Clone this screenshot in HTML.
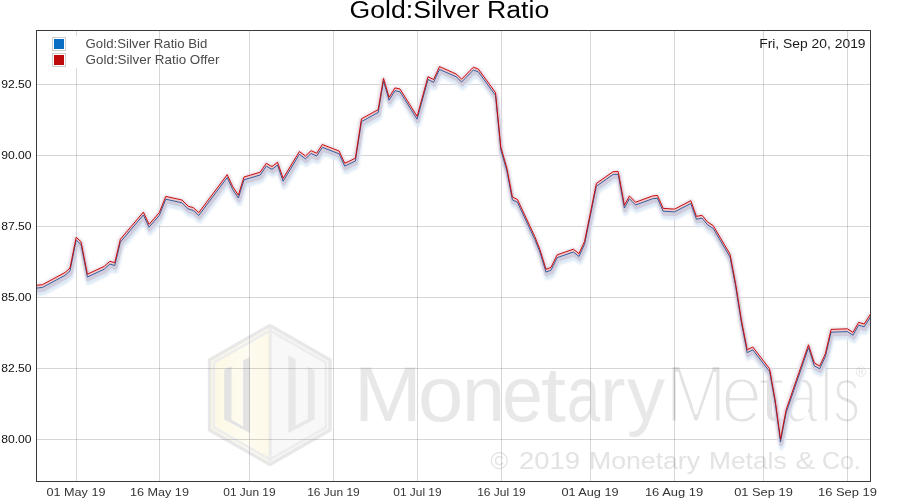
<!DOCTYPE html>
<html><head><meta charset="utf-8"><title>Gold:Silver Ratio</title>
<style>
html,body{margin:0;padding:0;background:#fff;}
body{width:900px;height:500px;overflow:hidden;font-family:"Liberation Sans",sans-serif;}
svg{display:block;will-change:transform;}
text{font-family:"Liberation Sans",sans-serif;}
</style></head><body>
<svg width="900" height="500" viewBox="0 0 900 500">
<defs>
<clipPath id="plot"><rect x="36" y="30" width="835" height="452"/></clipPath>
<filter id="blur1" x="-5%" y="-5%" width="110%" height="110%"><feGaussianBlur stdDeviation="0.5"/></filter>
<filter id="blur2" x="-5%" y="-5%" width="110%" height="110%"><feGaussianBlur stdDeviation="0.9"/></filter>
</defs>
<rect width="900" height="500" fill="#fff"/>

<!-- watermark -->
<g id="wm">
<linearGradient id="gl" x1="0" y1="0" x2="1" y2="0"><stop offset="0" stop-color="#fdf7e2"/><stop offset="0.6" stop-color="#fefcf1"/><stop offset="1" stop-color="#fdf9e8"/></linearGradient>
<polygon points="270,324 331.5,359 331.5,431 270,466 208,431 208,359" fill="#f8f8f8"/>
<polygon points="270,324 270,466 208,431 208,359" fill="url(#gl)"/>
<polygon points="270,325.5 330,360 330,430 270,464.5 209.5,430 209.5,360" fill="none" stroke="#e8e8e8" stroke-width="3.4" stroke-linejoin="round"/>
<polygon points="270,330.5 325.8,362.5 325.8,427.5 270,459.5 213.8,427.5 213.8,362.5" fill="none" stroke="#ededed" stroke-width="2.6" stroke-linejoin="round"/>
<rect x="268.6" y="327" width="3.2" height="136" fill="#ececec"/>
<!-- left U -->
<path d="M224.2,369.7 L231.5,366 L231.5,419.8 L243.1,426.4 L243.1,360.5 L249.8,357 L249.8,432.9 L224.2,419.4 Z" fill="#e3e3e3"/>
<!-- right U -->
<path d="M288.3,355.5 L295.7,359.5 L295.7,425.6 L307.9,418.8 L307.9,366.5 L314.6,370.5 L314.6,419.4 L288.3,432.9 Z" fill="#e8e8e8"/>
<g font-size="78" fill="#e8e8e8">
<text x="354" y="421" textLength="67.84" lengthAdjust="spacingAndGlyphs">M</text>
<text x="418.0" y="421" textLength="45.34" lengthAdjust="spacingAndGlyphs">o</text>
<text x="462" y="421" textLength="43.18" lengthAdjust="spacingAndGlyphs">n</text>
<text x="502" y="421" textLength="40.83" lengthAdjust="spacingAndGlyphs">e</text>
<text x="541" y="421" textLength="25.04" lengthAdjust="spacingAndGlyphs">t</text>
<text x="567" y="421" textLength="33.14" lengthAdjust="spacingAndGlyphs">a</text>
<text x="600" y="421" textLength="25.46" lengthAdjust="spacingAndGlyphs">r</text>
<text x="627" y="421" textLength="38.0" lengthAdjust="spacingAndGlyphs">y</text>
</g>
<g font-size="81.5" fill="#e3e3e3" stroke="#fff" stroke-width="3.2">
<text x="665" y="422" textLength="62.03" lengthAdjust="spacingAndGlyphs">M</text>
<text x="721" y="422" textLength="41.27" lengthAdjust="spacingAndGlyphs">e</text>
<text x="757" y="422" textLength="29.08" lengthAdjust="spacingAndGlyphs">t</text>
<text x="785" y="422" textLength="33.08" lengthAdjust="spacingAndGlyphs">a</text>
<text x="820.0" y="422" textLength="12.6" lengthAdjust="spacingAndGlyphs">l</text>
<text x="833.0" y="422" textLength="27.21" lengthAdjust="spacingAndGlyphs">s</text>
</g>
<text x="855.8" y="377" font-size="14" fill="#e6e6e6">®</text>
<g font-size="24" fill="#e3e3e3">
<text x="490.5" y="469" textLength="17.56" lengthAdjust="spacingAndGlyphs">©</text>
<text x="519.0" y="469" textLength="61.08" lengthAdjust="spacingAndGlyphs">2019</text>
<text x="589.0" y="469" textLength="111.04" lengthAdjust="spacingAndGlyphs">Monetary</text>
<text x="709" y="469" textLength="77.61" lengthAdjust="spacingAndGlyphs">Metals</text>
<text x="795.5" y="469" textLength="19.56" lengthAdjust="spacingAndGlyphs">&amp;</text>
<text x="822.0" y="469" textLength="38.76" lengthAdjust="spacingAndGlyphs">Co.</text>
</g>
</g>

<!-- grid -->
<g stroke="#26222c" stroke-opacity="0.19" stroke-width="1" shape-rendering="crispEdges">
<line x1="37" y1="84.5" x2="870" y2="84.5"/>
<line x1="37" y1="155.5" x2="870" y2="155.5"/>
<line x1="37" y1="226.5" x2="870" y2="226.5"/>
<line x1="37" y1="297.5" x2="870" y2="297.5"/>
<line x1="37" y1="368.5" x2="870" y2="368.5"/>
<line x1="37" y1="439.5" x2="870" y2="439.5"/>
<line x1="76.5" y1="31" x2="76.5" y2="481"/>
<line x1="159.5" y1="31" x2="159.5" y2="481"/>
<line x1="249.5" y1="31" x2="249.5" y2="481"/>
<line x1="333.5" y1="31" x2="333.5" y2="481"/>
<line x1="417.5" y1="31" x2="417.5" y2="481"/>
<line x1="501.5" y1="31" x2="501.5" y2="481"/>
<line x1="590.5" y1="31" x2="590.5" y2="481"/>
<line x1="674.5" y1="31" x2="674.5" y2="481"/>
<line x1="763.5" y1="31" x2="763.5" y2="481"/>
<line x1="847.5" y1="31" x2="847.5" y2="481"/>
</g>

<!-- legend background -->
<rect x="48" y="36" width="34" height="32" fill="#fff"/>

<!-- series -->
<g clip-path="url(#plot)" fill="none" stroke-linejoin="round" stroke-linecap="round">
<g filter="url(#blur2)">
<polyline points="36.0,288.2 42.6,287.4 65.0,275.3 70.0,270.9 76.2,240.1 81.0,244.5 87.4,277.0 104.2,269.2 109.8,264.1 114.8,265.5 120.4,242.0 143.4,214.9 149.0,227.2 159.3,215.4 165.8,199.2 182.0,202.8 188.2,209.0 193.2,210.4 198.8,215.4 227.2,177.5 232.8,189.6 238.4,198.0 244.0,179.8 260.2,175.0 266.3,166.1 272.0,169.4 277.5,165.0 283.1,181.2 299.4,154.3 305.5,158.8 311.1,153.5 316.7,156.0 322.3,147.3 339.1,153.8 344.7,166.1 355.4,161.0 361.5,121.6 378.2,112.4 383.5,81.2 389.1,100.2 395.0,90.7 400.0,91.8 417.1,119.2 428.0,79.5 433.6,82.3 439.5,69.4 456.0,76.7 461.6,82.0 473.4,70.0 478.4,71.9 495.5,95.4 500.8,149.8 506.8,170.8 512.4,199.9 517.4,202.2 534.8,239.4 539.8,252.0 546.0,272.1 551.0,270.2 557.2,257.6 573.4,252.0 579.0,256.5 584.6,244.1 596.4,186.2 613.2,174.4 618.2,174.4 624.4,208.0 629.4,198.8 635.6,205.0 652.4,198.8 657.4,198.2 663.2,211.2 674.6,211.9 690.8,203.5 696.4,219.2 702.0,218.1 707.6,224.8 713.2,228.4 730.0,257.0 735.6,286.4 741.4,322.8 747.2,352.6 752.8,349.8 769.6,371.6 775.2,403.0 780.5,442.0 786.1,412.8 808.5,347.6 814.3,365.8 819.7,368.8 825.3,356.8 831.1,332.2 847.4,331.6 853.0,335.2 858.6,325.2 864.2,326.8 870.5,317.0" stroke="#dce8f5" stroke-width="5" transform="translate(1,5.4)"/>
<polyline points="36.0,285.4 42.6,284.6 65.0,272.5 70.0,268.1 76.2,237.3 81.0,241.7 87.4,274.2 104.2,266.4 109.8,261.3 114.8,262.7 120.4,239.2 143.4,212.1 149.0,224.4 159.3,212.6 165.8,196.4 182.0,200.0 188.2,206.2 193.2,207.6 198.8,212.6 227.2,174.7 232.8,186.8 238.4,195.2 244.0,177.0 260.2,172.2 266.3,163.3 272.0,166.6 277.5,162.2 283.1,178.4 299.4,151.5 305.5,156.0 311.1,150.7 316.7,153.2 322.3,144.5 339.1,151.0 344.7,163.3 355.4,158.2 361.5,118.8 378.2,109.6 383.5,78.4 389.1,97.4 395.0,87.9 400.0,89.0 417.1,116.4 428.0,76.7 433.6,79.5 439.5,66.6 456.0,73.9 461.6,79.2 473.4,67.2 478.4,69.1 495.5,92.6 500.8,147.0 506.8,168.0 512.4,197.1 517.4,199.4 534.8,236.6 539.8,249.2 546.0,269.3 551.0,267.4 557.2,254.8 573.4,249.2 579.0,253.7 584.6,241.3 596.4,183.4 613.2,171.6 618.2,171.6 624.4,205.2 629.4,196.0 635.6,202.2 652.4,196.0 657.4,195.4 663.2,208.4 674.6,209.1 690.8,200.7 696.4,216.4 702.0,215.3 707.6,222.0 713.2,225.6 730.0,254.2 735.6,283.6 741.4,320.0 747.2,349.8 752.8,347.0 769.6,368.8 775.2,400.2 780.5,439.2 786.1,410.0 808.5,344.8 814.3,363.0 819.7,366.0 825.3,354.0 831.1,329.4 847.4,328.8 853.0,332.4 858.6,322.4 864.2,324.0 870.5,314.2" stroke="#e4dbe7" stroke-width="5.6" transform="translate(0,1.4)"/>
</g>
<g filter="url(#blur1)">
<polyline points="36.0,288.2 42.6,287.4 65.0,275.3 70.0,270.9 76.2,240.1 81.0,244.5 87.4,277.0 104.2,269.2 109.8,264.1 114.8,265.5 120.4,242.0 143.4,214.9 149.0,227.2 159.3,215.4 165.8,199.2 182.0,202.8 188.2,209.0 193.2,210.4 198.8,215.4 227.2,177.5 232.8,189.6 238.4,198.0 244.0,179.8 260.2,175.0 266.3,166.1 272.0,169.4 277.5,165.0 283.1,181.2 299.4,154.3 305.5,158.8 311.1,153.5 316.7,156.0 322.3,147.3 339.1,153.8 344.7,166.1 355.4,161.0 361.5,121.6 378.2,112.4 383.5,81.2 389.1,100.2 395.0,90.7 400.0,91.8 417.1,119.2 428.0,79.5 433.6,82.3 439.5,69.4 456.0,76.7 461.6,82.0 473.4,70.0 478.4,71.9 495.5,95.4 500.8,149.8 506.8,170.8 512.4,199.9 517.4,202.2 534.8,239.4 539.8,252.0 546.0,272.1 551.0,270.2 557.2,257.6 573.4,252.0 579.0,256.5 584.6,244.1 596.4,186.2 613.2,174.4 618.2,174.4 624.4,208.0 629.4,198.8 635.6,205.0 652.4,198.8 657.4,198.2 663.2,211.2 674.6,211.9 690.8,203.5 696.4,219.2 702.0,218.1 707.6,224.8 713.2,228.4 730.0,257.0 735.6,286.4 741.4,322.8 747.2,352.6 752.8,349.8 769.6,371.6 775.2,403.0 780.5,442.0 786.1,412.8 808.5,347.6 814.3,365.8 819.7,368.8 825.3,356.8 831.1,332.2 847.4,331.6 853.0,335.2 858.6,325.2 864.2,326.8 870.5,317.0" stroke="#d0ccdc" stroke-width="4" transform="translate(0.6,2.3)"/>
<polyline points="36.0,285.4 42.6,284.6 65.0,272.5 70.0,268.1 76.2,237.3 81.0,241.7 87.4,274.2 104.2,266.4 109.8,261.3 114.8,262.7 120.4,239.2 143.4,212.1 149.0,224.4 159.3,212.6 165.8,196.4 182.0,200.0 188.2,206.2 193.2,207.6 198.8,212.6 227.2,174.7 232.8,186.8 238.4,195.2 244.0,177.0 260.2,172.2 266.3,163.3 272.0,166.6 277.5,162.2 283.1,178.4 299.4,151.5 305.5,156.0 311.1,150.7 316.7,153.2 322.3,144.5 339.1,151.0 344.7,163.3 355.4,158.2 361.5,118.8 378.2,109.6 383.5,78.4 389.1,97.4 395.0,87.9 400.0,89.0 417.1,116.4 428.0,76.7 433.6,79.5 439.5,66.6 456.0,73.9 461.6,79.2 473.4,67.2 478.4,69.1 495.5,92.6 500.8,147.0 506.8,168.0 512.4,197.1 517.4,199.4 534.8,236.6 539.8,249.2 546.0,269.3 551.0,267.4 557.2,254.8 573.4,249.2 579.0,253.7 584.6,241.3 596.4,183.4 613.2,171.6 618.2,171.6 624.4,205.2 629.4,196.0 635.6,202.2 652.4,196.0 657.4,195.4 663.2,208.4 674.6,209.1 690.8,200.7 696.4,216.4 702.0,215.3 707.6,222.0 713.2,225.6 730.0,254.2 735.6,283.6 741.4,320.0 747.2,349.8 752.8,347.0 769.6,368.8 775.2,400.2 780.5,439.2 786.1,410.0 808.5,344.8 814.3,363.0 819.7,366.0 825.3,354.0 831.1,329.4 847.4,328.8 853.0,332.4 858.6,322.4 864.2,324.0 870.5,314.2" stroke="#f4c8c8" stroke-width="2.2" transform="translate(0,1.4)"/>
</g>
<polyline points="36.0,288.2 42.6,287.4 65.0,275.3 70.0,270.9 76.2,240.1 81.0,244.5 87.4,277.0 104.2,269.2 109.8,264.1 114.8,265.5 120.4,242.0 143.4,214.9 149.0,227.2 159.3,215.4 165.8,199.2 182.0,202.8 188.2,209.0 193.2,210.4 198.8,215.4 227.2,177.5 232.8,189.6 238.4,198.0 244.0,179.8 260.2,175.0 266.3,166.1 272.0,169.4 277.5,165.0 283.1,181.2 299.4,154.3 305.5,158.8 311.1,153.5 316.7,156.0 322.3,147.3 339.1,153.8 344.7,166.1 355.4,161.0 361.5,121.6 378.2,112.4 383.5,81.2 389.1,100.2 395.0,90.7 400.0,91.8 417.1,119.2 428.0,79.5 433.6,82.3 439.5,69.4 456.0,76.7 461.6,82.0 473.4,70.0 478.4,71.9 495.5,95.4 500.8,149.8 506.8,170.8 512.4,199.9 517.4,202.2 534.8,239.4 539.8,252.0 546.0,272.1 551.0,270.2 557.2,257.6 573.4,252.0 579.0,256.5 584.6,244.1 596.4,186.2 613.2,174.4 618.2,174.4 624.4,208.0 629.4,198.8 635.6,205.0 652.4,198.8 657.4,198.2 663.2,211.2 674.6,211.9 690.8,203.5 696.4,219.2 702.0,218.1 707.6,224.8 713.2,228.4 730.0,257.0 735.6,286.4 741.4,322.8 747.2,352.6 752.8,349.8 769.6,371.6 775.2,403.0 780.5,442.0 786.1,412.8 808.5,347.6 814.3,365.8 819.7,368.8 825.3,356.8 831.1,332.2 847.4,331.6 853.0,335.2 858.6,325.2 864.2,326.8 870.5,317.0" stroke="#25589e" stroke-width="0.95"/>
<polyline points="36.0,285.4 42.6,284.6 65.0,272.5 70.0,268.1 76.2,237.3 81.0,241.7 87.4,274.2 104.2,266.4 109.8,261.3 114.8,262.7 120.4,239.2 143.4,212.1 149.0,224.4 159.3,212.6 165.8,196.4 182.0,200.0 188.2,206.2 193.2,207.6 198.8,212.6 227.2,174.7 232.8,186.8 238.4,195.2 244.0,177.0 260.2,172.2 266.3,163.3 272.0,166.6 277.5,162.2 283.1,178.4 299.4,151.5 305.5,156.0 311.1,150.7 316.7,153.2 322.3,144.5 339.1,151.0 344.7,163.3 355.4,158.2 361.5,118.8 378.2,109.6 383.5,78.4 389.1,97.4 395.0,87.9 400.0,89.0 417.1,116.4 428.0,76.7 433.6,79.5 439.5,66.6 456.0,73.9 461.6,79.2 473.4,67.2 478.4,69.1 495.5,92.6 500.8,147.0 506.8,168.0 512.4,197.1 517.4,199.4 534.8,236.6 539.8,249.2 546.0,269.3 551.0,267.4 557.2,254.8 573.4,249.2 579.0,253.7 584.6,241.3 596.4,183.4 613.2,171.6 618.2,171.6 624.4,205.2 629.4,196.0 635.6,202.2 652.4,196.0 657.4,195.4 663.2,208.4 674.6,209.1 690.8,200.7 696.4,216.4 702.0,215.3 707.6,222.0 713.2,225.6 730.0,254.2 735.6,283.6 741.4,320.0 747.2,349.8 752.8,347.0 769.6,368.8 775.2,400.2 780.5,439.2 786.1,410.0 808.5,344.8 814.3,363.0 819.7,366.0 825.3,354.0 831.1,329.4 847.4,328.8 853.0,332.4 858.6,322.4 864.2,324.0 870.5,314.2" stroke="#c60404" stroke-width="0.95"/>
</g>

<!-- plot border -->
<rect x="36.5" y="30.5" width="834" height="451" fill="none" stroke="#3a3a3a" stroke-width="1" shape-rendering="crispEdges"/>

<!-- title -->
<text x="349.6" y="17.8" font-size="23.3" fill="#000" textLength="199.6" lengthAdjust="spacingAndGlyphs">Gold:Silver Ratio</text>

<!-- legend -->
<rect x="52.5" y="37.5" width="13" height="13" fill="#fff" stroke="#cfcfcf" stroke-width="1"/>
<rect x="54" y="39" width="10" height="10" fill="#0a6fc4"/>
<rect x="52.5" y="53.5" width="13" height="13" fill="#fff" stroke="#cfcfcf" stroke-width="1"/>
<rect x="54" y="55" width="10" height="10" fill="#bf0b0b"/>
<g font-size="12.8" fill="#4a4a4a">
<text x="85.6" y="47.6" textLength="121.8" lengthAdjust="spacingAndGlyphs">Gold:Silver Ratio Bid</text>
<text x="85.6" y="63.6" textLength="133.8" lengthAdjust="spacingAndGlyphs">Gold:Silver Ratio Offer</text>
</g>
<text x="759.2" y="47.6" font-size="12.6" fill="#1a1a1a" textLength="106.4" lengthAdjust="spacingAndGlyphs">Fri, Sep 20, 2019</text>

<!-- axis labels -->
<g font-size="11.7" fill="#111">
<text x="1.2" y="88.3" textLength="30.4" lengthAdjust="spacingAndGlyphs">92.50</text>
<text x="1.2" y="159.2" textLength="30.4" lengthAdjust="spacingAndGlyphs">90.00</text>
<text x="1.2" y="230.1" textLength="30.4" lengthAdjust="spacingAndGlyphs">87.50</text>
<text x="1.2" y="301.1" textLength="30.4" lengthAdjust="spacingAndGlyphs">85.00</text>
<text x="1.2" y="372.0" textLength="30.4" lengthAdjust="spacingAndGlyphs">82.50</text>
<text x="1.2" y="442.9" textLength="30.4" lengthAdjust="spacingAndGlyphs">80.00</text>
</g>
<g font-size="11.6" fill="#333">
<text x="46.5" y="495.6" textLength="59.0" lengthAdjust="spacingAndGlyphs">01 May 19</text>
<text x="130.0" y="495.6" textLength="58.9" lengthAdjust="spacingAndGlyphs">16 May 19</text>
<text x="223.3" y="495.6" textLength="52.3" lengthAdjust="spacingAndGlyphs">01 Jun 19</text>
<text x="307.2" y="495.6" textLength="52.6" lengthAdjust="spacingAndGlyphs">16 Jun 19</text>
<text x="393.3" y="495.6" textLength="48.3" lengthAdjust="spacingAndGlyphs">01 Jul 19</text>
<text x="477.2" y="495.6" textLength="48.6" lengthAdjust="spacingAndGlyphs">16 Jul 19</text>
<text x="561.4" y="495.6" textLength="57.2" lengthAdjust="spacingAndGlyphs">01 Aug 19</text>
<text x="644.9" y="495.6" textLength="58.3" lengthAdjust="spacingAndGlyphs">16 Aug 19</text>
<text x="734.2" y="495.6" textLength="58.6" lengthAdjust="spacingAndGlyphs">01 Sep 19</text>
<text x="818.0" y="495.6" textLength="59.0" lengthAdjust="spacingAndGlyphs">16 Sep 19</text>
</g>
</svg>
</body></html>
